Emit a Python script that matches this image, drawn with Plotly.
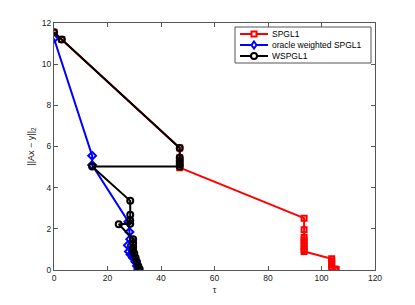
import plotly.graph_objects as go

# SPGL1
spgl1_tau = [0, 2.9, 47, 47, 47, 47, 47, 93.5, 93.5, 93.5, 93.5, 93.5, 93.5, 93.5, 93.5,
             103.8, 103.8, 103.8, 103.8, 103.8, 105, 105.5]
spgl1_res = [11.55, 11.2, 5.93, 5.45, 5.3, 5.15, 4.97, 2.52, 1.96, 1.58, 1.45, 1.3, 1.15, 1.0, 0.9,
             0.55, 0.45, 0.35, 0.25, 0.15, 0.05, 0.02]

# oracle weighted SPGL1
oracle_tau = [0, 14.25, 14.25, 27.8, 28.2, 28.5, 27.6, 28.0, 28.6, 29.5, 30.4, 31.0, 31.5]
oracle_res = [11.25, 5.55, 5.1, 2.35, 1.85, 1.5, 1.2, 0.9, 0.75, 0.6, 0.4, 0.2, 0.05]

# WSPGL1
wspgl1_tau = [0, 2.9, 47, 47, 47, 47, 47, 14.25, 28.5, 28.5, 28.5, 28.5, 24.2,
              29.6, 29.6, 29.6, 29.6, 30.0, 30.5, 31.0, 31.5, 32.0]
wspgl1_res = [11.55, 11.2, 5.93, 5.45, 5.3, 5.15, 5.03, 5.03, 3.36, 2.68, 2.4, 2.25, 2.22,
              1.5, 1.3, 1.1, 0.95, 0.8, 0.6, 0.4, 0.2, 0.05]

series_names = ["SPGL1", "oracle weighted SPGL1", "WSPGL1"]
series_colors = ["#ff0000", "#0000ff", "#000000"]
series_symbols = ["square-open", "diamond-open", "circle-open"]

x_ticks = [0, 20, 40, 60, 80, 100, 120]
y_ticks = [0, 2, 4, 6, 8, 10, 12]

# figure geometry (page body has an 8px default margin)
W, H = 407, 297
ML, MR, MT, MB = 46, 40, 15, 35
PW, PH = W - ML - MR, H - MT - MB

fig = go.Figure()
data = [(spgl1_tau, spgl1_res, 5), (oracle_tau, oracle_res, 6), (wspgl1_tau, wspgl1_res, 6)]
for (xs, ys, ms), name, col, sym in zip(data, series_names, series_colors, series_symbols):
    fig.add_trace(go.Scatter(x=xs, y=ys, name=name, mode="lines+markers",
                             line=dict(color=col, width=2),
                             marker=dict(symbol=sym, size=ms, color=col,
                                         line=dict(width=2, color=col))))

axis_common = dict(showgrid=False, zeroline=False, showline=True, mirror="ticks",
                   linecolor="#555555", linewidth=1, ticks="inside", ticklen=4,
                   tickcolor="#555555", automargin=False,
                   tickfont=dict(family="Liberation Sans, Arial", size=8.5, color="#222222"))

# manual compact legend (MATLAB style)
def px(X):
    return (X - ML) / PW

def py(Y):
    return (MT + PH - Y) / PH

shapes = [dict(type="rect", xref="paper", yref="paper", x0=px(227), x1=px(363), y0=py(55), y1=py(19),
               line=dict(color="#555555", width=1), fillcolor="white", layer="above")]
annotations = []
for i, (name, col, sym) in enumerate(zip(series_names, series_colors, series_symbols)):
    Y = 26 + 11 * i
    shapes.append(dict(type="line", xref="paper", yref="paper", x0=px(232), x1=px(260), y0=py(Y), y1=py(Y),
                       line=dict(color=col, width=2), layer="above"))
    cx, cy = px(246), py(Y)
    if sym == "square-open":
        shapes.append(dict(type="rect", xref="paper", yref="paper", xsizemode="pixel", ysizemode="pixel",
                           xanchor=cx, yanchor=cy, x0=-2.5, x1=2.5, y0=-2.5, y1=2.5,
                           line=dict(color=col, width=2), fillcolor="white", layer="above"))
    elif sym == "circle-open":
        shapes.append(dict(type="circle", xref="paper", yref="paper", xsizemode="pixel", ysizemode="pixel",
                           xanchor=cx, yanchor=cy, x0=-3, x1=3, y0=-3, y1=3,
                           line=dict(color=col, width=2), fillcolor="white", layer="above"))
    else:
        shapes.append(dict(type="path", xref="paper", yref="paper", xsizemode="pixel", ysizemode="pixel",
                           xanchor=cx, yanchor=cy, path="M0,3.5 L2.5,0 L0,-3.5 L-2.5,0 Z",
                           line=dict(color=col, width=2), fillcolor="white", layer="above"))
    annotations.append(dict(xref="paper", yref="paper", x=px(262), y=py(Y), text=name, showarrow=False,
                            xanchor="left", yanchor="middle", font=dict(size=8.5, color="#000000")))

fig.update_layout(
    width=W, height=H,
    margin=dict(l=ML, r=MR, t=MT, b=MB),
    paper_bgcolor="white", plot_bgcolor="white",
    font=dict(family="Liberation Sans, Arial", size=9, color="#222222"),
    xaxis=dict(range=[0, 120], tickvals=x_ticks,
               title=dict(text="τ", standoff=4, font=dict(size=9)), **axis_common),
    yaxis=dict(range=[0, 12], tickvals=y_ticks,
               title=dict(text="||Ax − y||<sub>2</sub>", standoff=5, font=dict(size=9)), **axis_common),
    showlegend=False,
    shapes=shapes,
    annotations=annotations,
)

fig.write_html("out.html")
